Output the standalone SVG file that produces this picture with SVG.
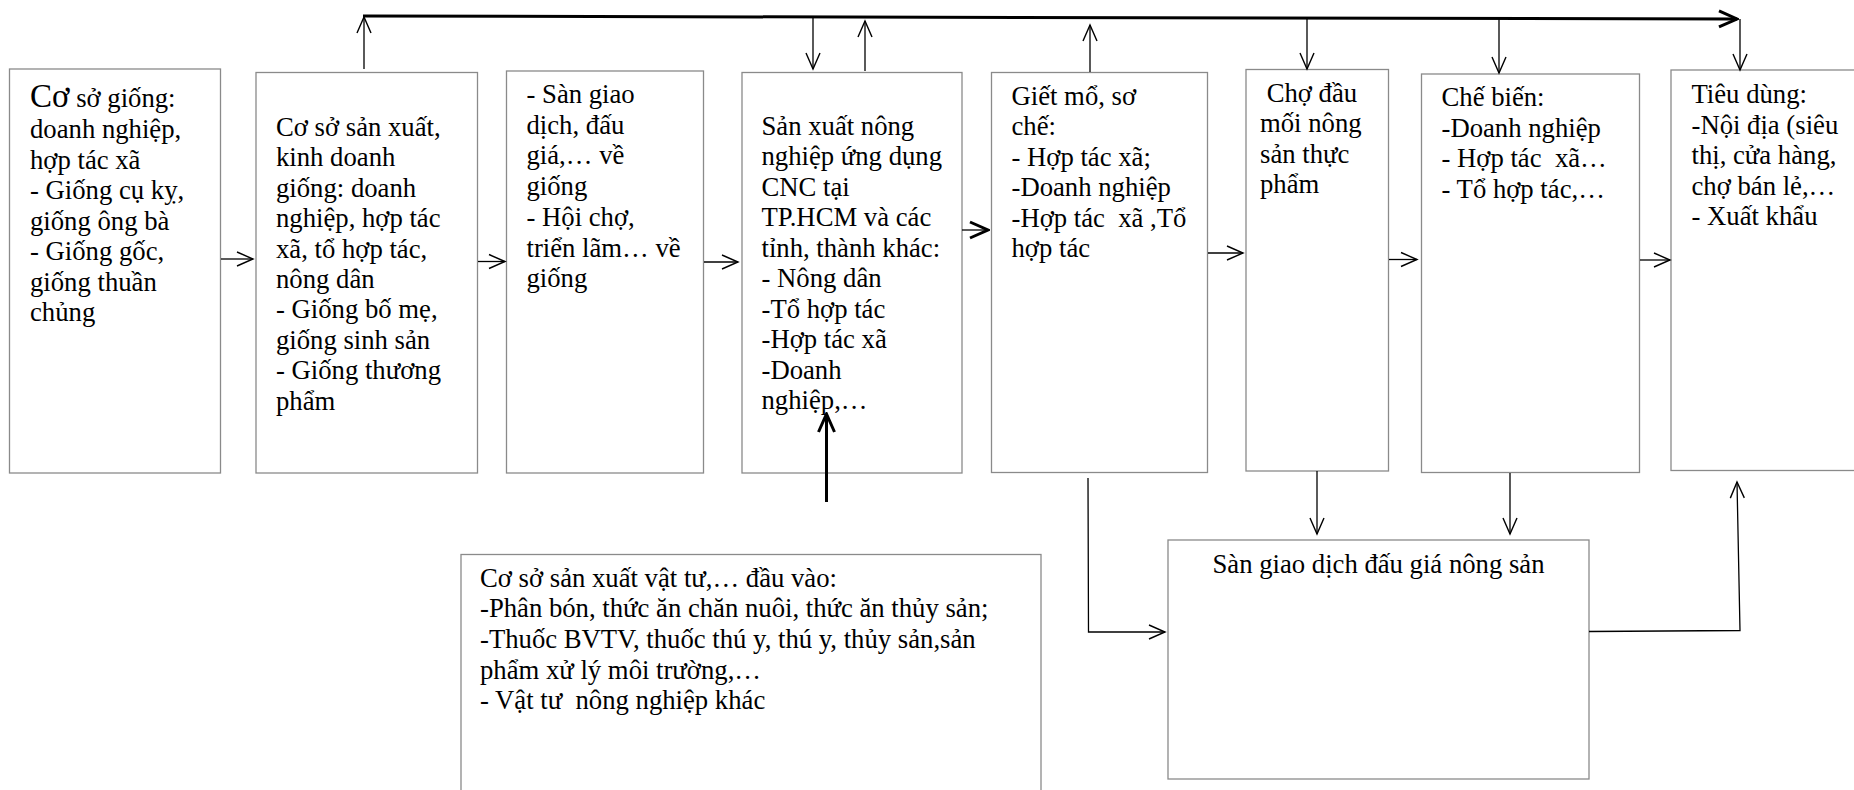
<svg xmlns="http://www.w3.org/2000/svg" width="1854" height="790" viewBox="0 0 1854 790">
<style>
.box{fill:#fff;stroke:#8a8a8a;stroke-width:1.3}
.t{font-family:"Liberation Serif","Times New Roman",serif;font-size:26.7px;fill:#000}
.c{fill:none;stroke:#000;stroke-width:1.3}
.ck{fill:none;stroke:#000;stroke-width:3}
</style>
<defs>
<marker id="a" markerUnits="userSpaceOnUse" viewBox="-18 -10 20 20" refX="0" refY="0" markerWidth="20" markerHeight="20" orient="auto">
<path d="M-16,-7 L0,0 L-16,7" fill="none" stroke="#000" stroke-width="1.4"/>
</marker>
<marker id="ak" markerUnits="userSpaceOnUse" viewBox="-22 -12 24 24" refX="0" refY="0" markerWidth="24" markerHeight="24" orient="auto">
<path d="M-18,-8 L0,0 L-18,8" fill="none" stroke="#000" stroke-width="3"/>
</marker>
</defs>
<rect width="1854" height="790" fill="#fff"/>

<g id="n1">
<rect class="box" x="9.5" y="69" width="211" height="404"/>
<text class="t" x="30" y="107"><tspan font-size="33">Cơ</tspan> sở giống:</text>
<text class="t" x="30" y="138">doanh nghiệp,</text>
<text class="t" x="30" y="168.5">hợp tác xã</text>
<text class="t" x="30" y="199">- Giống cụ kỵ,</text>
<text class="t" x="30" y="229.5">giống ông bà</text>
<text class="t" x="30" y="260">- Giống gốc,</text>
<text class="t" x="30" y="290.5">giống thuần</text>
<text class="t" x="30" y="321">chủng</text>
</g>

<g id="n2">
<rect class="box" x="256" y="72.5" width="221.5" height="400.5"/>
<text class="t" x="276" y="136">Cơ sở sản xuất,</text>
<text class="t" x="276" y="166.4">kinh doanh</text>
<text class="t" x="276" y="196.8">giống: doanh</text>
<text class="t" x="276" y="227.2">nghiệp, hợp tác</text>
<text class="t" x="276" y="257.6">xã, tổ hợp tác,</text>
<text class="t" x="276" y="288">nông dân</text>
<text class="t" x="276" y="318.4">- Giống bố mẹ,</text>
<text class="t" x="276" y="348.8">giống sinh sản</text>
<text class="t" x="276" y="379.2">- Giống thương</text>
<text class="t" x="276" y="409.6">phẩm</text>
</g>

<g id="n3">
<rect class="box" x="506.5" y="71" width="197" height="402"/>
<text class="t" x="526.5" y="103">- Sàn giao</text>
<text class="t" x="526.5" y="133.7">dịch, đấu</text>
<text class="t" x="526.5" y="164.4">giá,… về</text>
<text class="t" x="526.5" y="195.1">giống</text>
<text class="t" x="526.5" y="225.8">- Hội chợ,</text>
<text class="t" x="526.5" y="256.5">triển lãm… về</text>
<text class="t" x="526.5" y="287.2">giống</text>
</g>

<g id="n4">
<rect class="box" x="742" y="72.5" width="220" height="400.5"/>
<text class="t" x="761.5" y="134.5">Sản xuất nông</text>
<text class="t" x="761.5" y="165">nghiệp ứng dụng</text>
<text class="t" x="761.5" y="195.5">CNC tại</text>
<text class="t" x="761.5" y="226">TP.HCM và các</text>
<text class="t" x="761.5" y="256.5">tỉnh, thành khác:</text>
<text class="t" x="761.5" y="287">- Nông dân</text>
<text class="t" x="761.5" y="317.5">-Tổ hợp tác</text>
<text class="t" x="761.5" y="348">-Hợp tác xã</text>
<text class="t" x="761.5" y="378.5">-Doanh</text>
<text class="t" x="761.5" y="409">nghiệp,…</text>
</g>

<g id="n5">
<rect class="box" x="991.5" y="72.5" width="216" height="400"/>
<text class="t" x="1011.5" y="104.5">Giết mổ, sơ</text>
<text class="t" x="1011.5" y="135">chế:</text>
<text class="t" x="1011.5" y="165.5">- Hợp tác xã;</text>
<text class="t" x="1011.5" y="196">-Doanh nghiệp</text>
<text class="t" x="1011.5" y="226.5" xml:space="preserve">-Hợp tác  xã ,Tổ</text>
<text class="t" x="1011.5" y="257">hợp tác</text>
</g>

<g id="n6">
<rect class="box" x="1246" y="69.5" width="142.5" height="401.5"/>
<text class="t" x="1260" y="101.5" xml:space="preserve"> Chợ đầu</text>
<text class="t" x="1260" y="132">mối nông</text>
<text class="t" x="1260" y="162.5">sản thực</text>
<text class="t" x="1260" y="193">phẩm</text>
</g>

<g id="n7">
<rect class="box" x="1421.5" y="74" width="218" height="398.5"/>
<text class="t" x="1441.5" y="106">Chế biến:</text>
<text class="t" x="1441.5" y="136.5">-Doanh nghiệp</text>
<text class="t" x="1441.5" y="167" xml:space="preserve">- Hợp tác  xã…</text>
<text class="t" x="1441.5" y="197.5">- Tổ hợp tác,…</text>
</g>

<g id="n8">
<rect class="box" x="1671" y="70" width="190" height="400.5"/>
<text class="t" x="1691.5" y="103">Tiêu dùng:</text>
<text class="t" x="1691.5" y="133.5">-Nội địa (siêu</text>
<text class="t" x="1691.5" y="164">thị, cửa hàng,</text>
<text class="t" x="1691.5" y="194.5">chợ bán lẻ,…</text>
<text class="t" x="1691.5" y="225">- Xuất khẩu</text>
</g>

<g id="n9">
<rect class="box" x="461" y="554.5" width="580" height="260"/>
<text class="t" x="480" y="586.5">Cơ sở sản xuất vật tư,… đầu vào:</text>
<text class="t" x="480" y="617.2">-Phân bón, thức ăn chăn nuôi, thức ăn thủy sản;</text>
<text class="t" x="480" y="647.9">-Thuốc BVTV, thuốc thú y, thú y, thủy sản,sản</text>
<text class="t" x="480" y="678.6">phẩm xử lý môi trường,…</text>
<text class="t" x="480" y="709.3" xml:space="preserve">- Vật tư  nông nghiệp khác</text>
</g>

<g id="n10">
<rect class="box" x="1168" y="540" width="421" height="239"/>
<text class="t" x="1378.5" y="573" text-anchor="middle">Sàn giao dịch đấu giá nông sản</text>
</g>

<g id="connectors">
<line class="ck" x1="363" y1="16" x2="1737" y2="19" marker-end="url(#ak)"/>
<line class="c" x1="364" y1="69" x2="364" y2="17" marker-end="url(#a)"/>
<line class="c" x1="813" y1="16" x2="813" y2="69" marker-end="url(#a)"/>
<line class="c" x1="865" y1="71" x2="865" y2="21" marker-end="url(#a)"/>
<line class="c" x1="1090" y1="72" x2="1090" y2="25" marker-end="url(#a)"/>
<line class="c" x1="1307" y1="18" x2="1307" y2="69" marker-end="url(#a)"/>
<line class="c" x1="1499" y1="19" x2="1499" y2="73" marker-end="url(#a)"/>
<line class="c" x1="1740" y1="19" x2="1740" y2="70" marker-end="url(#a)"/>

<line class="c" x1="221" y1="259" x2="253" y2="259" marker-end="url(#a)"/>
<line class="c" x1="478" y1="261.5" x2="505" y2="261.5" marker-end="url(#a)"/>
<line class="c" x1="704" y1="262" x2="738" y2="262" marker-end="url(#a)"/>
<line class="c" x1="962" y1="230" x2="988" y2="230" stroke-width="2.5" marker-end="url(#ak)"/>
<line class="c" x1="1208" y1="253" x2="1243" y2="253" marker-end="url(#a)"/>
<line class="c" x1="1389" y1="259.5" x2="1417" y2="259.5" marker-end="url(#a)"/>
<line class="c" x1="1640" y1="260" x2="1670" y2="260" marker-end="url(#a)"/>

<line class="ck" x1="826.5" y1="502" x2="826.5" y2="414" marker-end="url(#ak)"/>

<line class="c" x1="1317" y1="471" x2="1317" y2="534" marker-end="url(#a)"/>
<line class="c" x1="1510" y1="473" x2="1510" y2="534" marker-end="url(#a)"/>
<polyline class="c" points="1088,478 1088.5,632 1165,632" marker-end="url(#a)"/>
<polyline class="c" points="1589,631.5 1740,630.5 1737,482" marker-end="url(#a)"/>
</g>
</svg>
